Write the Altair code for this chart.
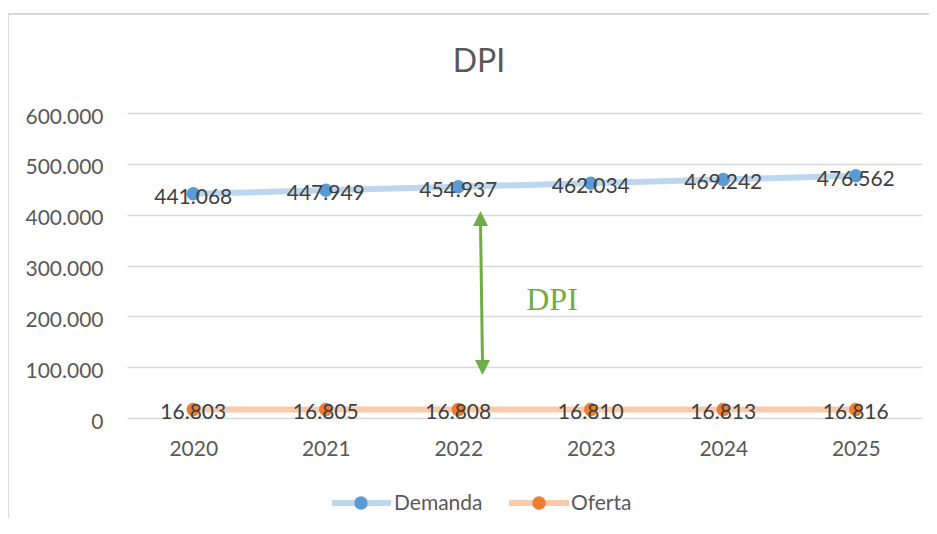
import altair as alt
import pandas as pd

# ---- data ----
years = ["2020", "2021", "2022", "2023", "2024", "2025"]
demanda = [441068, 447949, 454937, 462034, 469242, 476562]
oferta = [16803, 16805, 16808, 16810, 16813, 16816]
series_names = ["Demanda", "Oferta"]
y_ticks = [0, 100000, 200000, 300000, 400000, 500000, 600000]
title_text = "DPI"
annotation_text = "DPI"

line_colors = {"Demanda": "#bdd7ee", "Oferta": "#f8cbad"}
marker_colors = {"Demanda": "#5b9bd5", "Oferta": "#ed7d31"}


def fmt(v):
    return f"{v:,}".replace(",", ".")


values = {"Demanda": demanda, "Oferta": oferta}
frames = {
    s: pd.DataFrame({"year": years, "value": values[s], "label": [fmt(v) for v in values[s]]})
    for s in series_names
}
one = pd.DataFrame({"k": [0]})

FONT = "Lato"
AXIS_COLOR = "#595959"
GRID = "#d9d9d9"

x_enc = alt.X(
    "year:O", title=None, sort=years,
    axis=alt.Axis(labelAngle=0, labelFont=FONT, labelFontSize=21, labelColor=AXIS_COLOR,
                  ticks=False, tickSize=0, domain=False, grid=False, labelPadding=20),
)
y_enc = alt.Y(
    "value:Q", title=None,
    scale=alt.Scale(domain=[0, 600000], nice=False),
    axis=alt.Axis(values=y_ticks, labelExpr="replace(format(datum.value, ',d'), ',', '.')",
                  labelFont=FONT, labelFontSize=21, labelColor=AXIS_COLOR,
                  ticks=False, tickSize=0, domain=False, grid=True, gridColor=GRID,
                  gridWidth=1.5, labelPadding=24, labelOffset=4),
)

layers = []

# outer chart frame (only top and left edges visible)
layers.append(alt.Chart(one).mark_rule(color=GRID, strokeWidth=2).encode(
    x=alt.value(-119), x2=alt.value(-119), y=alt.value(-99), y2=alt.value(420)))
layers.append(alt.Chart(one).mark_rule(color=GRID, strokeWidth=2).encode(
    x=alt.value(-120), x2=alt.value(820), y=alt.value(-99), y2=alt.value(-99)))

# series lines
for s in series_names:
    layers.append(alt.Chart(frames[s]).mark_line(strokeWidth=6, color=line_colors[s]).encode(
        x=x_enc, y=y_enc))

# DPI arrow
GREEN = "#70ad47"
layers.append(alt.Chart(one).mark_rule(color=GREEN, strokeWidth=3).encode(
    x=alt.value(353.5), x2=alt.value(355.5), y=alt.value(109), y2=alt.value(251)))
layers.append(alt.Chart(one).mark_point(shape="M0,-1L1,1L-1,1Z", size=225, filled=True,
                                        opacity=1, color=GREEN).encode(
    x=alt.value(353.5), y=alt.value(105.5)))
layers.append(alt.Chart(one).mark_point(shape="M0,1L1,-1L-1,-1Z", size=225, filled=True,
                                        opacity=1, color=GREEN).encode(
    x=alt.value(355.5), y=alt.value(254.5)))

# markers and labels
for s in series_names:
    layers.append(alt.Chart(frames[s]).mark_circle(size=180, opacity=1, color=marker_colors[s]).encode(
        x=x_enc, y=y_enc))
for s in series_names:
    layers.append(alt.Chart(frames[s]).mark_text(dy=4, baseline="middle", align="center", font=FONT,
                                                 fontSize=21, color="#404040").encode(
        x=x_enc, y=y_enc, text="label:N"))

# legend (manual, line + dot symbols)
legend_pos = {"Demanda": (205, 264, 234, 267), "Oferta": (382, 442, 412, 444)}
for s in series_names:
    x0, x1, xc, xt = legend_pos[s]
    layers.append(alt.Chart(one).mark_rule(color=line_colors[s], strokeWidth=6).encode(
        x=alt.value(x0), x2=alt.value(x1), y=alt.value(390)))
    layers.append(alt.Chart(one).mark_circle(size=180, opacity=1, color=marker_colors[s]).encode(
        x=alt.value(xc), y=alt.value(390)))
    layers.append(alt.Chart(pd.DataFrame({"t": [s]})).mark_text(
        align="left", baseline="middle", font=FONT, fontSize=21, color=AXIS_COLOR).encode(
        x=alt.value(xt), y=alt.value(391), text="t:N"))

# title
layers.append(alt.Chart(pd.DataFrame({"t": [title_text]})).mark_text(
    align="center", baseline="alphabetic", font=FONT, fontSize=32, color=AXIS_COLOR).encode(
    x=alt.value(352), y=alt.value(-41), text="t:N"))

# DPI annotation label
layers.append(alt.Chart(pd.DataFrame({"t": [annotation_text]})).mark_text(
    align="center", baseline="alphabetic", font="Liberation Serif", fontSize=32, color=GREEN).encode(
    x=alt.value(425), y=alt.value(197), text="t:N"))

chart = alt.layer(*layers).properties(
    width=795, height=305,
    autosize=alt.AutoSizeParams(type="none"),
    padding={"left": 119, "top": 105, "right": 7, "bottom": 100},
).configure_view(strokeWidth=0)

chart.save("out.html", embed_options={"renderer": "svg", "actions": False})
